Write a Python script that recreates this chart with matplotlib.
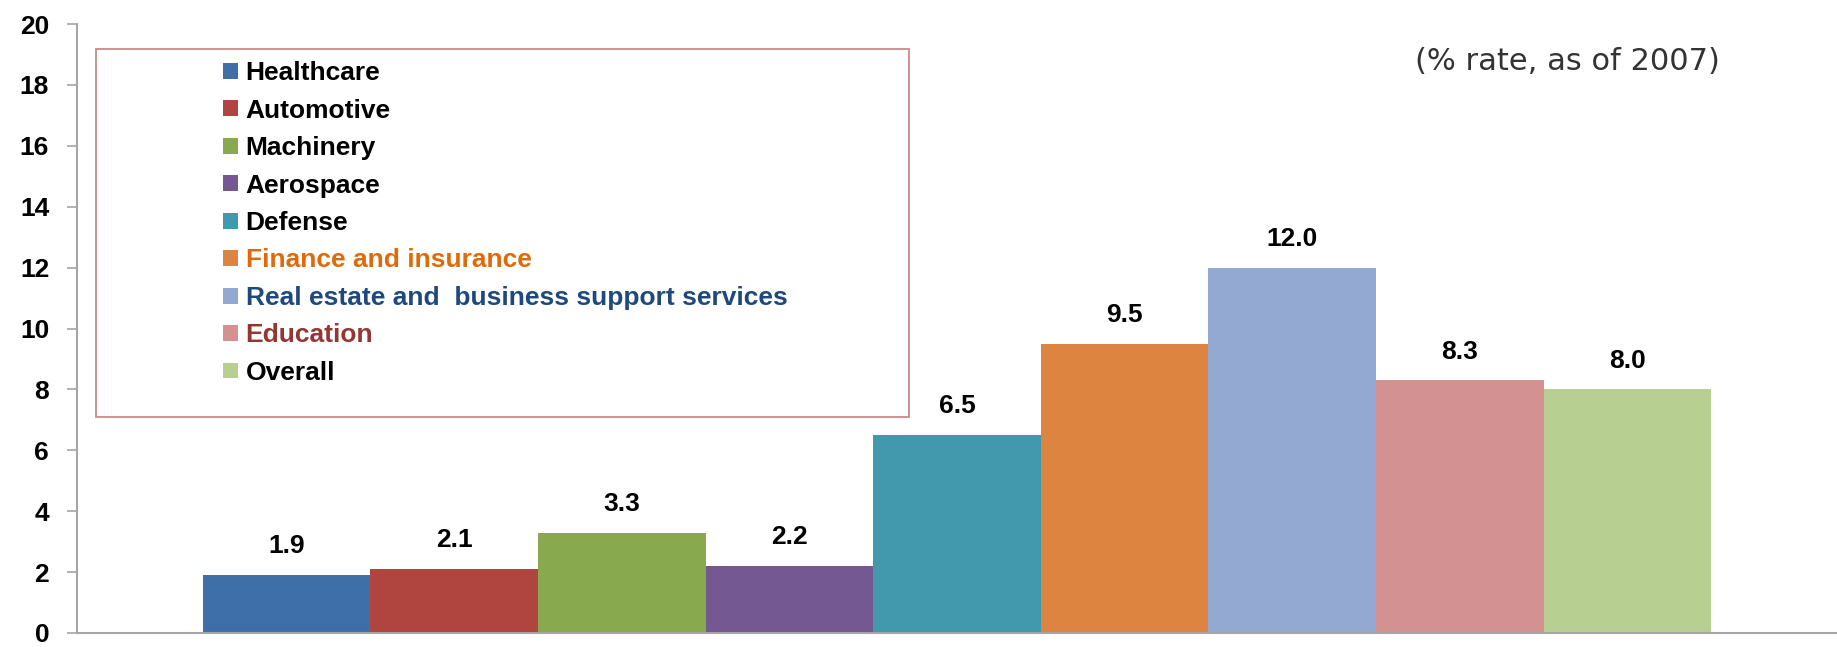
import matplotlib.pyplot as plt
from matplotlib.patches import Patch, Rectangle
import numpy as np

# datos
sectores = ["Healthcare", "Automotive", "Machinery", "Aerospace", "Defense",
            "Finance and insurance", "Real estate and  business support services",
            "Education", "Overall"]
tasas = [1.9, 2.1, 3.3, 2.2, 6.5, 9.5, 12.0, 8.3, 8.0]
colores = ["#3f6fa9", "#b0443f", "#88a94d", "#735892", "#4299ae",
           "#dc8440", "#94a9d2", "#d39191", "#b7cf91"]
colores_texto = ["black", "black", "black", "black", "black",
                 "#e06a0a", "#1f497d", "#943634", "black"]
ticks_y = [0, 2, 4, 6, 8, 10, 12, 14, 16, 18, 20]

fuente = "Liberation Sans"

fig = plt.figure(figsize=(18.37, 6.47), dpi=100)
ax = fig.add_axes([77 / 1837, 14 / 647, 1 - 77 / 1837, 609 / 647])

x = np.arange(len(tasas))
barras = ax.bar(x, tasas, width=1.0, color=colores, linewidth=0)

for xi, v in zip(x, tasas):
    ax.annotate(f"{v:.1f}", (xi, v), xytext=(0, 12), textcoords="offset points",
                ha="center", va="bottom", fontsize=19, fontweight="bold",
                family=fuente)

ax.set_xlim(-0.5 - 0.75, len(tasas) - 0.5 + 0.75)
ax.set_ylim(0, 20)
ax.set_yticks(ticks_y)
ax.set_yticklabels([str(t) for t in ticks_y], fontsize=19, fontweight="bold",
                   family=fuente)
ax.tick_params(axis="y", direction="out", length=7, width=1.2, color="#a6a6a6", pad=13)
ax.tick_params(axis="x", length=0, labelbottom=False)

for lado in ["top", "right"]:
    ax.spines[lado].set_visible(False)
for lado in ["left", "bottom"]:
    ax.spines[lado].set_color("#a6a6a6")
    ax.spines[lado].set_linewidth(1.5)

# recuadro de la leyenda
ax.add_patch(Rectangle((0.0108, 0.355), 0.462, 0.604, transform=ax.transAxes,
                       fill=False, edgecolor="#c98a88", linewidth=1.3, zorder=3))

handles = [Patch(facecolor=c, edgecolor="none") for c in colores]
leg = ax.legend(handles, sectores, loc="upper left",
                bbox_to_anchor=(0.083, 0.939), frameon=False,
                prop={"family": fuente, "weight": "bold", "size": 19},
                handlelength=0.55, handleheight=0.55, handletextpad=0.3,
                labelspacing=0.51, borderpad=0, borderaxespad=0)
for texto, c in zip(leg.get_texts(), colores_texto):
    texto.set_color(c)

fig.text(1415 / 1837, 1 - 62 / 647, "(% rate, as of 2007)", fontsize=22,
         family="DejaVu Sans", color="#333333", va="center", ha="left")

fig.savefig("out.png", dpi=100)
